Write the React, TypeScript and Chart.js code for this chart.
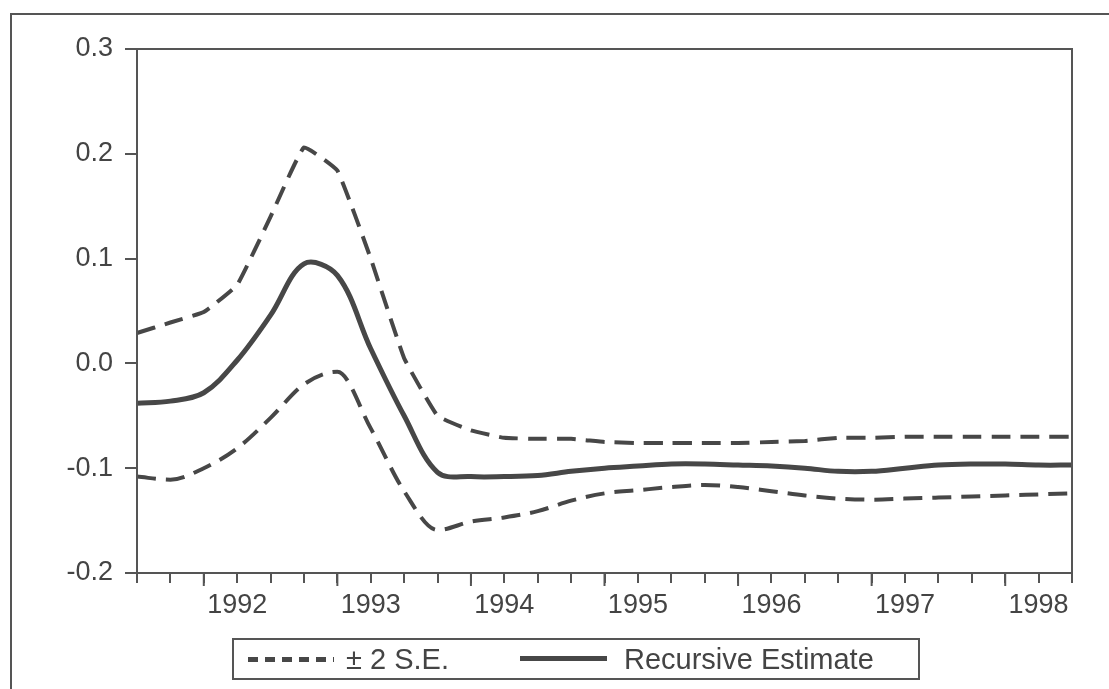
import React, { useEffect, useRef } from "react";
import { Chart, registerables } from "chart.js";

Chart.register(...registerables);

const QUARTERS: string[] = [
  "1991Q3", "1991Q4",
  "1992Q1", "1992Q2", "1992Q3", "1992Q4",
  "1993Q1", "1993Q2", "1993Q3", "1993Q4",
  "1994Q1", "1994Q2", "1994Q3", "1994Q4",
  "1995Q1", "1995Q2", "1995Q3", "1995Q4",
  "1996Q1", "1996Q2", "1996Q3", "1996Q4",
  "1997Q1", "1997Q2", "1997Q3", "1997Q4",
  "1998Q1", "1998Q2", "1998Q3",
];

const RECURSIVE: number[] = [
  -0.038, -0.036, -0.028, 0.003, 0.046, 0.095, 0.084, 0.014, -0.05, -0.104,
  -0.108, -0.108, -0.107, -0.103, -0.1, -0.098, -0.096, -0.096, -0.097, -0.098,
  -0.1, -0.103, -0.103, -0.1, -0.097, -0.096, -0.096, -0.097, -0.097,
];

const UPPER: number[] = [
  0.029, 0.039, 0.049, 0.075, 0.14, 0.206, 0.184, 0.1, 0.005, -0.05,
  -0.064, -0.071, -0.072, -0.072, -0.075, -0.076, -0.076, -0.076, -0.076, -0.075,
  -0.074, -0.071, -0.071, -0.07, -0.07, -0.07, -0.07, -0.07, -0.07,
];

const LOWER: number[] = [
  -0.108, -0.111, -0.1, -0.081, -0.052, -0.02, -0.008, -0.062, -0.122, -0.159,
  -0.151, -0.147, -0.141, -0.131, -0.124, -0.121, -0.118, -0.116, -0.118, -0.122,
  -0.126, -0.129, -0.13, -0.129, -0.128, -0.127, -0.126, -0.125, -0.124,
];

const Y_MIN = -0.2;
const Y_MAX = 0.3;
const Y_STEP = 0.1;

const LEGEND_SE = "± 2 S.E.";
const LEGEND_REC = "Recursive Estimate";

const INK = "#474747";
const AXIS = "#555555";
const FONT = "'Liberation Sans', Arial, Helvetica, sans-serif";

const framePlugin = {
  id: "frameAndLongTicks",
  afterDraw(chart: any) {
    const { ctx, chartArea: a, scales } = chart;
    ctx.save();
    ctx.strokeStyle = AXIS;
    ctx.lineWidth = 2;
    ctx.strokeRect(a.left, a.top, a.right - a.left, a.bottom - a.top);
    const xs = scales.x;
    QUARTERS.forEach((q, i) => {
      if (q.endsWith("Q1")) {
        const px = xs.getPixelForValue(i);
        ctx.beginPath();
        ctx.moveTo(px, a.bottom);
        ctx.lineTo(px, a.bottom + 13);
        ctx.stroke();
      }
    });
    ctx.restore();
  },
};

export default function App() {
  const ref = useRef<HTMLCanvasElement | null>(null);

  useEffect(() => {
    if (!ref.current) return;
    const chart = new Chart(ref.current, {
      type: "line",
      data: {
        labels: QUARTERS,
        datasets: [
          {
            label: LEGEND_SE,
            data: UPPER,
            borderColor: INK,
            borderWidth: 4,
            borderDash: [19, 10],
            pointRadius: 0,
            tension: 0.1,
            fill: false,
          },
          {
            label: LEGEND_REC,
            data: RECURSIVE,
            borderColor: INK,
            borderWidth: 5,
            pointRadius: 0,
            tension: 0.35,
            fill: false,
          },
          {
            label: "lower",
            data: LOWER,
            borderColor: INK,
            borderWidth: 4,
            borderDash: [19, 10],
            pointRadius: 0,
            cubicInterpolationMode: "monotone",
            fill: false,
          },
        ],
      },
      options: {
        animation: false,
        responsive: false,
        maintainAspectRatio: false,
        layout: { padding: { top: 49, left: 0, right: 37, bottom: 0 } },
        plugins: {
          legend: { display: false },
          tooltip: { enabled: false },
          title: { display: false },
        },
        scales: {
          x: {
            type: "category",
            offset: false,
            afterFit: (s: any) => {
              s.height = 116;
            },
            grid: {
              drawOnChartArea: false,
              drawTicks: true,
              tickLength: 10,
              color: AXIS,
              lineWidth: 2,
            },
            border: { display: true, color: AXIS, width: 2 },
            ticks: {
              autoSkip: false,
              maxRotation: 0,
              minRotation: 0,
              padding: 6,
              color: "#444",
              font: { family: FONT, size: 27 },
              callback: (_v: any, i: number) => {
                const q = QUARTERS[i];
                return q && q.endsWith("Q2") ? q.slice(0, 4) : "";
              },
            },
          },
          y: {
            min: Y_MIN,
            max: Y_MAX,
            afterFit: (s: any) => {
              s.width = 137;
            },
            grid: {
              drawOnChartArea: false,
              drawTicks: true,
              tickLength: 12,
              color: AXIS,
              lineWidth: 2,
            },
            border: { display: true, color: AXIS, width: 2 },
            ticks: {
              stepSize: Y_STEP,
              padding: 12,
              color: "#444",
              font: { family: FONT, size: 27 },
              callback: (v: any) => Number(v).toFixed(1),
            },
          },
        },
      },
      plugins: [framePlugin],
    });
    return () => chart.destroy();
  }, []);

  const textStyle: React.CSSProperties = {
    position: "absolute",
    top: 638,
    height: 42,
    lineHeight: "42px",
    fontFamily: FONT,
    fontSize: 29,
    color: "#444",
    whiteSpace: "nowrap",
  };

  return (
    <div
      style={{
        position: "absolute",
        left: 0,
        top: 0,
        width: 1109,
        height: 689,
        overflow: "hidden",
        background: "#fff",
      }}
    >
      <div
        style={{
          position: "absolute",
          left: 10,
          top: 13,
          width: 1120,
          height: 700,
          borderTop: `2px solid ${AXIS}`,
          borderLeft: `2px solid ${AXIS}`,
          boxSizing: "border-box",
        }}
      />
      <canvas
        ref={ref}
        width={1109}
        height={689}
        style={{ position: "absolute", left: 0, top: 0, width: 1109, height: 689 }}
      />
      <div
        style={{
          position: "absolute",
          left: 232,
          top: 638,
          width: 688,
          height: 42,
          border: `2px solid ${AXIS}`,
          boxSizing: "border-box",
        }}
      />
      <div
        style={{
          position: "absolute",
          left: 248,
          top: 657,
          width: 86,
          height: 5,
          background: `repeating-linear-gradient(to right, ${INK} 0px, ${INK} 10px, transparent 10px, transparent 17px)`,
        }}
      />
      <div style={{ ...textStyle, left: 346 }}>{LEGEND_SE}</div>
      <div
        style={{
          position: "absolute",
          left: 520,
          top: 656,
          width: 87,
          height: 5,
          background: INK,
        }}
      />
      <div style={{ ...textStyle, left: 624 }}>{LEGEND_REC}</div>
    </div>
  );
}
